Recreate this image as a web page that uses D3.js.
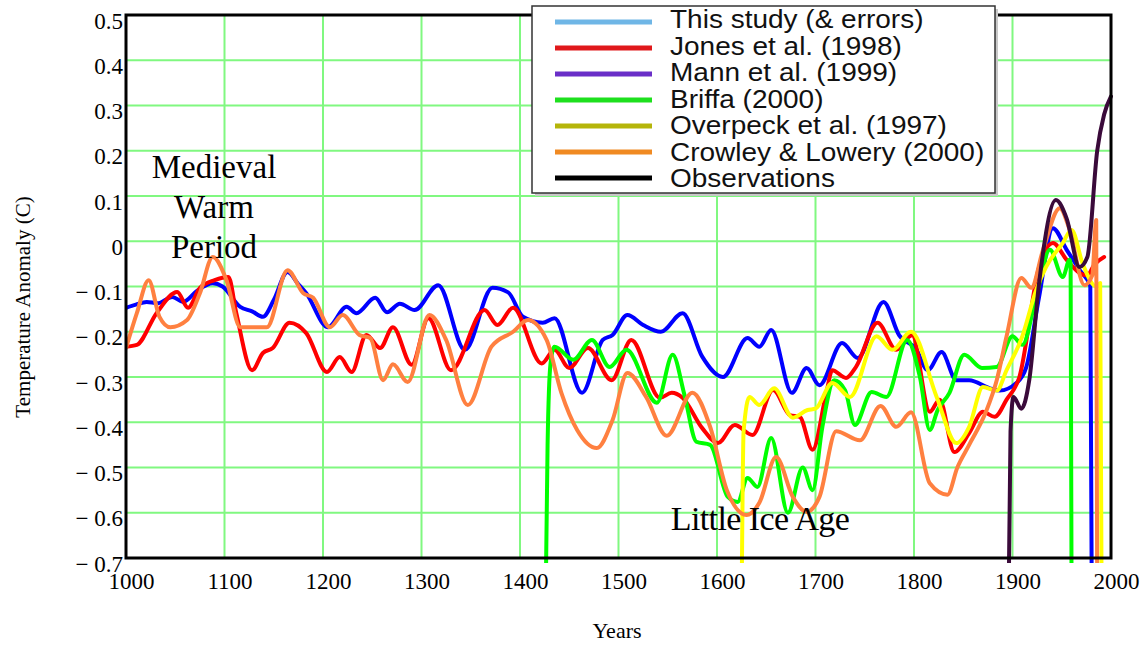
<!DOCTYPE html>
<html>
<head>
<meta charset="utf-8">
<script src="https://cdn.jsdelivr.net/npm/d3@7"></script>
<style>
  html, body { margin: 0; padding: 0; background: #fff; }
  svg { display: block; }
</style>
</head>
<body>
<svg id="chart" width="1146" height="646"></svg>
<script>
// ---------- DATA ----------
const xTicks = [1000, 1100, 1200, 1300, 1400, 1500, 1600, 1700, 1800, 1900, 2000];
const yTicks = [0.5, 0.4, 0.3, 0.2, 0.1, 0, -0.1, -0.2, -0.3, -0.4, -0.5, -0.6, -0.7];

const legendLabels = ["This study (& errors)", "Jones et al. (1998)", "Mann et al. (1999)",
  "Briffa (2000)", "Overpeck et al. (1997)", "Crowley & Lowery (2000)", "Observations"];
const legendColors = ["#6fb6e6", "#e0181b", "#6a2fc8", "#1ee01e", "#b5b50a", "#f08a22", "#000000"];

// [year, anomaly °C]
const thisStudy = [[1000,-0.147],[1010,-0.14],[1021,-0.134],[1032,-0.137],[1047,-0.123],[1058,-0.134],
  [1072,-0.11],[1088,-0.093],[1098,-0.10],[1116,-0.145],[1128,-0.155],[1139,-0.167],[1150,-0.13],
  [1164,-0.068],[1175,-0.095],[1183,-0.115],[1205,-0.19],[1224,-0.145],[1234,-0.159],[1253,-0.125],
  [1265,-0.157],[1278,-0.138],[1293,-0.152],[1317,-0.097],[1344,-0.24],[1372,-0.103],[1388,-0.113],
  [1403,-0.167],[1423,-0.18],[1435,-0.17],[1463,-0.335],[1484,-0.218],[1494,-0.207],[1509,-0.163],
  [1525,-0.185],[1543,-0.20],[1565,-0.159],[1585,-0.255],[1606,-0.30],[1631,-0.214],[1643,-0.233],
  [1655,-0.196],[1676,-0.335],[1691,-0.28],[1704,-0.318],[1727,-0.225],[1743,-0.258],[1769,-0.134],
  [1785,-0.208],[1802,-0.238],[1814,-0.285],[1828,-0.245],[1843,-0.307],[1856,-0.307],[1877,-0.325],
  [1887,-0.33],[1904,-0.313],[1914,-0.278],[1927,-0.123],[1941,0.029],[1955,-0.019],[1968,-0.063],
  [1979,-0.10],[1980.5,-0.8]];

const jones = [[1000,-0.233],[1011,-0.229],[1031,-0.159],[1052,-0.112],[1063,-0.147],[1075,-0.103],
  [1090,-0.086],[1104,-0.079],[1112,-0.159],[1128,-0.285],[1139,-0.247],[1149,-0.236],[1166,-0.18],
  [1183,-0.203],[1204,-0.289],[1217,-0.256],[1229,-0.289],[1244,-0.207],[1258,-0.236],[1271,-0.19],
  [1290,-0.273],[1307,-0.17],[1330,-0.285],[1364,-0.152],[1377,-0.185],[1393,-0.147],[1422,-0.27],
  [1435,-0.24],[1450,-0.28],[1469,-0.236],[1493,-0.307],[1513,-0.218],[1542,-0.346],[1554,-0.335],
  [1565,-0.346],[1585,-0.413],[1601,-0.446],[1618,-0.406],[1636,-0.428],[1657,-0.329],[1674,-0.384],
  [1684,-0.388],[1697,-0.461],[1711,-0.335],[1717,-0.285],[1731,-0.302],[1741,-0.278],[1763,-0.18],
  [1782,-0.24],[1798,-0.208],[1816,-0.377],[1826,-0.35],[1841,-0.466],[1856,-0.424],[1870,-0.377],
  [1882,-0.388],[1894,-0.35],[1907,-0.30],[1927,-0.057],[1941,-0.004],[1955,-0.041],[1968,-0.07],
  [1976,-0.075],[1983,-0.052],[1993,-0.035]];

const briffa = [[1426,-0.8],[1428,-0.45],[1431,-0.27],[1435,-0.233],[1454,-0.262],[1473,-0.218],
  [1491,-0.278],[1508,-0.24],[1539,-0.357],[1555,-0.251],[1567,-0.34],[1579,-0.443],[1593,-0.45],
  [1611,-0.565],[1621,-0.576],[1631,-0.523],[1641,-0.543],[1655,-0.435],[1672,-0.60],[1687,-0.50],
  [1697,-0.55],[1707,-0.41],[1719,-0.307],[1730,-0.329],[1740,-0.406],[1757,-0.333],[1772,-0.344],
  [1793,-0.218],[1806,-0.30],[1816,-0.417],[1824,-0.373],[1836,-0.335],[1851,-0.251],[1869,-0.28],
  [1884,-0.278],[1900,-0.21],[1910,-0.229],[1924,-0.123],[1938,-0.019],[1951,-0.079],[1958,-0.041],
  [1959,-0.05],[1960,-0.8]];

const overpeck = [[1625,-0.8],[1627,-0.42],[1633,-0.344],[1643,-0.362],[1658,-0.325],[1677,-0.39],
  [1692,-0.373],[1700,-0.37],[1717,-0.313],[1735,-0.344],[1762,-0.21],[1778,-0.24],[1797,-0.20],
  [1823,-0.344],[1843,-0.446],[1856,-0.41],[1870,-0.322],[1884,-0.33],[1894,-0.285],[1910,-0.21],
  [1924,-0.108],[1934,-0.057],[1951,-0.004],[1960,0.025],[1971,-0.048],[1985,-0.10],[1989,-0.092],
  [1990.5,-0.8]];

const crowley = [[1000,-0.236],[1011,-0.159],[1023,-0.086],[1034,-0.167],[1045,-0.19],[1062,-0.174],
  [1075,-0.115],[1088,-0.035],[1102,-0.086],[1116,-0.19],[1143,-0.19],[1164,-0.064],[1180,-0.115],
  [1190,-0.125],[1207,-0.19],[1220,-0.163],[1237,-0.207],[1248,-0.214],[1261,-0.307],[1271,-0.272],
  [1286,-0.311],[1308,-0.163],[1325,-0.218],[1347,-0.362],[1371,-0.233],[1393,-0.20],[1408,-0.174],
  [1427,-0.218],[1442,-0.335],[1458,-0.417],[1478,-0.457],[1494,-0.395],[1509,-0.291],[1528,-0.344],
  [1549,-0.43],[1575,-0.335],[1593,-0.41],[1610,-0.55],[1630,-0.605],[1643,-0.578],[1660,-0.477],
  [1677,-0.565],[1691,-0.598],[1704,-0.565],[1721,-0.42],[1745,-0.44],[1766,-0.364],[1782,-0.41],
  [1797,-0.378],[1816,-0.535],[1834,-0.56],[1844,-0.50],[1856,-0.45],[1873,-0.377],[1884,-0.307],
  [1894,-0.21],[1909,-0.081],[1919,-0.103],[1931,-0.019],[1948,0.073],[1958,0.025],[1973,-0.097],
  [1981,-0.075],[1985,0.047],[1986,-0.8]];

const observations = [[1896,-0.8],[1898,-0.42],[1901,-0.344],[1909,-0.37],[1917,-0.307],[1927,-0.092],
  [1944,0.091],[1955,0.05],[1968,-0.057],[1976,-0.035],[1986,0.20],[1993,0.28],[2000,0.32]];

const seriesList = [
  {data: thisStudy, color: "#0000ff"},
  {data: jones, color: "#ff0000"},
  {data: briffa, color: "#00ff00"},
  {data: overpeck, color: "#ffff00"},
  {data: crowley, color: "#ff8040"},
  {data: observations, color: "#3a0a3a"}
];

(function () {
// ---------- LAYOUT ----------
const svg = d3.select("#chart");
const pLeft = 126, pRight = 1111, pTop = 15, pBottom = 558;
const x = d3.scaleLinear().domain([1000, 2000]).range([pLeft, pRight]);
const y = d3.scaleLinear().domain([-0.7, 0.5]).range([pBottom, pTop]);
const serif = "'Liberation Serif', 'Times New Roman', serif";

// grid
const grid = svg.append("g");
grid.selectAll("line.v").data(xTicks.slice(1, -1)).join("line")
  .attr("x1", d => x(d)).attr("x2", d => x(d)).attr("y1", pTop).attr("y2", pBottom)
  .attr("stroke", "#80f880").attr("stroke-width", 2);
grid.selectAll("line.h").data(yTicks.slice(1, -1)).join("line")
  .attr("x1", pLeft).attr("x2", pRight).attr("y1", d => y(d)).attr("y2", d => y(d))
  .attr("stroke", "#80f880").attr("stroke-width", 2);

// series
svg.append("clipPath").attr("id", "clip").append("rect")
  .attr("x", pLeft).attr("y", 0).attr("width", pRight - pLeft + 2).attr("height", pBottom + 5);
const line = d3.line().x(d => x(d[0])).y(d => y(d[1])).curve(d3.curveMonotoneX);
const plot = svg.append("g").attr("clip-path", "url(#clip)");
seriesList.forEach(s => {
  plot.append("path").attr("d", line(s.data)).attr("fill", "none")
    .attr("stroke", s.color).attr("stroke-width", 4)
    .attr("stroke-linejoin", "round").attr("stroke-linecap", "round");
});

// frame
svg.append("rect").attr("x", pLeft).attr("y", pTop).attr("width", pRight - pLeft).attr("height", pBottom - pTop)
  .attr("fill", "none").attr("stroke", "#000").attr("stroke-width", 3);

// axes
const xAxis = svg.append("g").attr("transform", `translate(0,${pBottom})`)
  .call(d3.axisBottom(x).tickValues(xTicks).tickSize(0).tickFormat(d3.format("d")));
xAxis.select(".domain").remove();
xAxis.attr("font-family", serif).attr("font-size", 23);
xAxis.selectAll("text").attr("fill", "#000").attr("dy", null).attr("y", 31).attr("x", 5);

const yFmt = d => d === 0 ? "0" : (d < 0 ? "\u2212 " + Math.abs(d).toFixed(1) : d.toFixed(1));
const yAxis = svg.append("g").attr("transform", `translate(${pLeft},0)`)
  .call(d3.axisLeft(y).tickValues(yTicks).tickSize(0).tickFormat(yFmt));
yAxis.select(".domain").remove();
yAxis.attr("font-family", serif).attr("font-size", 23);
yAxis.selectAll("text").attr("fill", "#000").attr("dy", null).attr("y", 13).attr("x", -3);

// axis titles
svg.append("text").attr("x", 617).attr("y", 638).attr("text-anchor", "middle")
  .attr("font-family", serif).attr("font-size", 22).text("Years");
svg.append("text").attr("transform", "translate(30,307) rotate(-90)").attr("text-anchor", "middle")
  .attr("font-family", serif).attr("font-size", 21).text("Temperature Anomaly (C)");

// annotations
const mwp = svg.append("text").attr("font-family", serif).attr("font-size", 33).attr("text-anchor", "middle");
["Medieval", "Warm", "Period"].forEach((t, i) => {
  mwp.append("tspan").attr("x", 214).attr("y", 178 + i * 40).text(t);
});
svg.append("text").attr("x", 760).attr("y", 530).attr("text-anchor", "middle")
  .attr("font-family", serif).attr("font-size", 34).attr("letter-spacing", -0.6).text("Little Ice Age");

// legend
const lg = svg.append("g");
lg.append("rect").attr("x", 535).attr("y", 9).attr("width", 463).attr("height", 187).attr("fill", "#c8c8c8");
lg.append("rect").attr("x", 532).attr("y", 6).attr("width", 463).attr("height", 187)
  .attr("fill", "#fff").attr("stroke", "#333").attr("stroke-width", 1.5);
legendLabels.forEach((lab, i) => {
  const ly = 22 + i * 26;
  lg.append("line").attr("x1", 555).attr("x2", 652).attr("y1", ly).attr("y2", ly)
    .attr("stroke", legendColors[i]).attr("stroke-width", 5);
  lg.append("text").attr("transform", `translate(670,${ly + 6 + i * 0.5}) scale(1.12,1)`)
    .attr("font-family", "'Liberation Sans', Arial, sans-serif").attr("font-size", 25)
    .attr("fill", "#111").text(lab);
});
})();
</script>
</body>
</html>
